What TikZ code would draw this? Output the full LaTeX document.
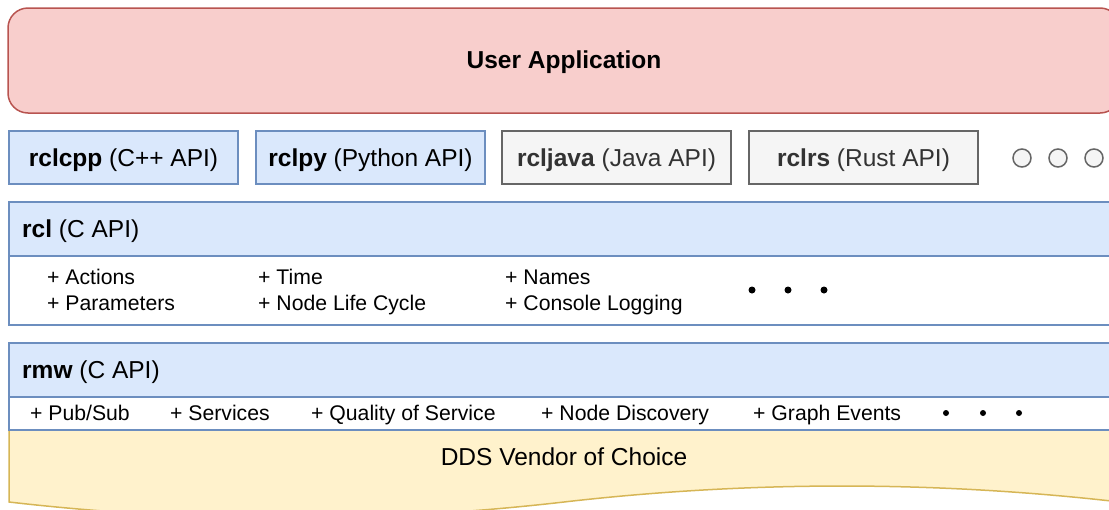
\documentclass[tikz,border=0pt]{standalone}
\usepackage{fontspec}
\setmainfont{Liberation Sans}
\definecolor{redfill}{HTML}{F8CECC}
\definecolor{redline}{HTML}{B85450}
\definecolor{bluefill}{HTML}{DAE8FC}
\definecolor{blueline}{HTML}{6C8EBF}
\definecolor{grayfill}{HTML}{F5F5F5}
\definecolor{grayline}{HTML}{666666}
\definecolor{graytext}{HTML}{333333}
\definecolor{yellowfill}{HTML}{FFF2CC}
\definecolor{yellowline}{HTML}{D6B656}
\newcommand{\bigfont}{\fontsize{24.5}{28}\selectfont}
\newcommand{\smallfont}{\fontsize{21.2}{25}\selectfont}
\tikzset{
  layer/.style={draw, line width=1.5pt, inner sep=0pt, outer sep=0pt},
  bluebox/.style={layer, draw=blueline, fill=bluefill},
  whitebox/.style={layer, draw=blueline, fill=white},
  graybox/.style={layer, draw=grayline, fill=grayfill},
  apilabel/.style={anchor=base, inner sep=0pt, font=\bigfont},
  headlabel/.style={anchor=base west, inner sep=0pt, font=\bigfont},
  item/.style={anchor=base west, inner sep=0pt, font=\smallfont},
  more/.style={circle, draw=grayline, fill=grayfill, line width=1.5pt, minimum size=18pt, inner sep=0pt},
  dot/.style={circle, fill=black, minimum size=#1, inner sep=0pt},
}
\begin{document}
\begin{tikzpicture}[x=1pt, y=-1pt]
\useasboundingbox (0,0) rectangle (1109,509);
\clip (0,0) rectangle (1109,509);

% DDS vendor layer (document shape with wavy bottom)
\draw[line width=1.5pt, draw=yellowline, fill=yellowfill]
  (9,430) -- (1120,430) -- (1120,502)
  .. controls (934.67,480.7) and (749.33,480.7) .. (564,502)
  .. controls (378.67,523.3) and (193.33,523.3) .. (9,502) -- cycle;
\node[anchor=base, inner sep=0pt, font=\bigfont] (dds) at (564,465.6) {DDS Vendor of Choice};

% rmw layer
\node[whitebox, minimum width=1111pt, minimum height=33pt, anchor=north west] (rmwbody) at (9,397) {};
\node[bluebox, minimum width=1111pt, minimum height=54pt, anchor=north west] (rmwhead) at (9,343) {};
\node[headlabel] (rmwlabel) at (22,378.6) {\textbf{rmw} (C API)};
\node[item] (pubsub) at (30,420.5) {+ Pub/Sub};
\node[item] (services) at (170,420.5) {+ Services};
\node[item] (qos) at (311,420.5) {+ Quality of Service};
\node[item] (discovery) at (541,420.5) {+ Node Discovery};
\node[item] (graph) at (753,420.5) {+ Graph Events};
\node[dot=6pt] (rmwd1) at (946,413) {};
\node[dot=6pt] (rmwd2) at (983,413) {};
\node[dot=6pt] (rmwd3) at (1019,413) {};

% rcl layer
\node[whitebox, minimum width=1111pt, minimum height=69pt, anchor=north west] (rclbody) at (9,256) {};
\node[bluebox, minimum width=1111pt, minimum height=54pt, anchor=north west] (rclhead) at (9,202) {};
\node[headlabel] (rcllabel) at (22,237.6) {\textbf{rcl} (C API)};
\node[item] (actions) at (47,284.5) {+ Actions};
\node[item] (params) at (47,310.5) {+ Parameters};
\node[item] (time) at (258,284.5) {+ Time};
\node[item] (lifecycle) at (258,310.5) {+ Node Life Cycle};
\node[item] (names) at (505,284.5) {+ Names};
\node[item] (logging) at (505,310.5) {+ Console Logging};
\node[dot=7pt] (rcld1) at (752,290) {};
\node[dot=7pt] (rcld2) at (788,290) {};
\node[dot=7pt] (rcld3) at (824,290) {};

% client libraries
\node[bluebox, minimum width=229pt, minimum height=53pt] (rclcpp) at (123.5,157.5) {};
\node[apilabel] (rclcpplabel) at (123.5,166) {\textbf{rclcpp} (C++ API)};
\node[bluebox, minimum width=229pt, minimum height=53pt] (rclpy) at (370.5,157.5) {};
\node[apilabel] (rclpylabel) at (370.5,166) {\textbf{rclpy} (Python API)};
\node[graybox, minimum width=229pt, minimum height=53pt] (rcljava) at (616.5,157.5) {};
\node[apilabel, text=graytext] (rcljavalabel) at (616.5,166) {\textbf{rcljava} (Java API)};
\node[graybox, minimum width=229pt, minimum height=53pt] (rclrs) at (863.5,157.5) {};
\node[apilabel, text=graytext] (rclrslabel) at (863.5,166) {\textbf{rclrs} (Rust API)};
\node[more] (more1) at (1022,158) {};
\node[more] (more2) at (1058,158) {};
\node[more] (more3) at (1094,158) {};

% user application
\node[layer, draw=redline, fill=redfill, rounded corners=20pt, minimum width=1112pt, minimum height=105pt, anchor=north west] (app) at (8,8) {};
\node[anchor=base, inner sep=0pt, font=\bigfont\bfseries] (applabel) at (564,68.6) {User Application};
\end{tikzpicture}
\end{document}
